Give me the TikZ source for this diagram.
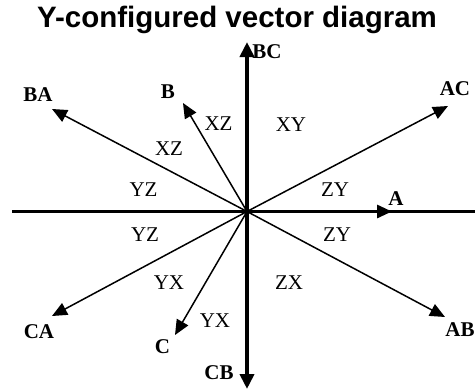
\documentclass[tikz,border=0pt]{standalone}
\usepackage{fontspec}
\setmainfont{Liberation Serif}
\newfontfamily\titlefont{Liberation Sans}
\usepackage{tikz}
\usetikzlibrary{arrows.meta}

\tikzset{
  phase/.style = {line width=1.5pt, -{Triangle[length=15pt,width=13pt]}},
  axis/.style = {line width=4.5pt, -{Triangle[length=15pt,width=14pt]}},
  tag/.style = {font=\fontsize{21}{21}\selectfont\bfseries, inner sep=0pt},
  zone/.style = {font=\fontsize{21}{21}\selectfont, inner sep=0pt}
}

\begin{document}
\begin{tikzpicture}
				[x=1pt, y=-1pt]
				\useasboundingbox (0,0) rectangle (475,389);
				\node[font=\titlefont\fontsize{29.5}{30}\selectfont\bfseries, inner sep=0pt, anchor=base] (title) at (237,27) {Y-configured vector diagram};
				% centre and arrow tips
				\coordinate (O) at (247,211.5);
				\coordinate (left) at (12,211.5);
				\coordinate (right) at (475,211.5);
				\coordinate (tA) at (392,211.5);
				\coordinate (tBC) at (247,42);
				\coordinate (tCB) at (247,389);
				\coordinate (tAC) at (448,106);
				\coordinate (tBA) at (52,109);
				\coordinate (tB) at (183,103);
				\coordinate (tCA) at (52,316);
				\coordinate (tC) at (175,335);
				\coordinate (tAB) at (445,317);
				\draw[line width=3pt] (left)--(right);
				\draw[phase, line width=3pt] (O)--(tA);
				\draw[axis] (O)--(tBC);
				\draw[axis] (O)--(tCB);
				\draw[phase] (O)--(tAC);
				\draw[phase] (O)--(tBA);
				\draw[phase] (O)--(tB);
				\draw[phase] (O)--(tCA);
				\draw[phase] (O)--(tC);
				\draw[phase] (O)--(tAB);
				% vector names
				\node[tag] (A) at (396,198.5) {A};
				\node[tag] (BC) at (267,51.5) {BC};
				\node[tag] (CB) at (219,372.5) {CB};
				\node[tag] (AC) at (455,89) {AC};
				\node[tag] (BA) at (38,94.5) {BA};
				\node[tag] (B) at (168,91.5) {B};
				\node[tag] (CA) at (39,331.5) {CA};
				\node[tag] (C) at (162.5,346.5) {C};
				\node[tag] (AB) at (460,330) {AB};
				% regions
				\node[zone] (xz1) at (218.5,123.5) {XZ};
				\node[zone] (xy) at (291,124.5) {XY};
				\node[zone] (xz2) at (169,148.5) {XZ};
				\node[zone] (yz1) at (143.5,190) {YZ};
				\node[zone] (zy1) at (335,190) {ZY};
				\node[zone] (yz2) at (145,235) {YZ};
				\node[zone] (zy2) at (337,235) {ZY};
				\node[zone] (yx1) at (169,283) {YX};
				\node[zone] (zx) at (289,283) {ZX};
				\node[zone] (yx2) at (215,320.5) {YX};
			\end{tikzpicture}
\end{document}
